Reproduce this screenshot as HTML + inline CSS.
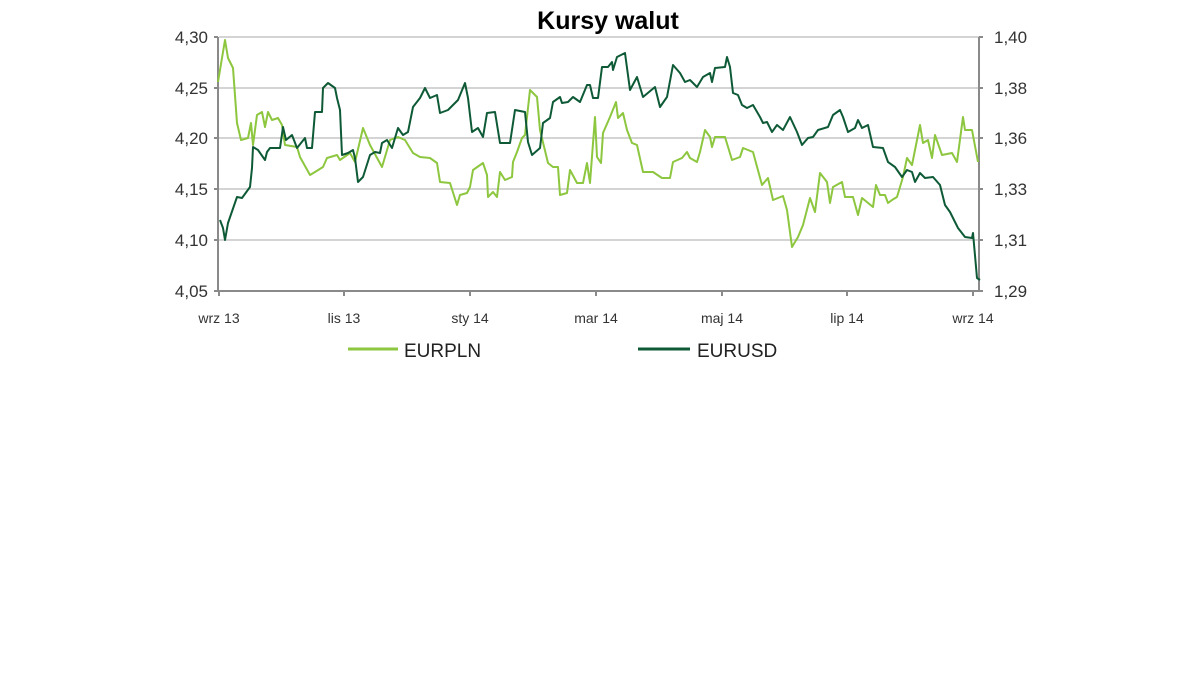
<!DOCTYPE html>
<html><head><meta charset="utf-8"><style>
html,body{margin:0;padding:0;background:#fff;}
svg{display:block;font-family:"Liberation Sans",sans-serif;}
</style></head><body>
<svg width="1200" height="675" viewBox="0 0 1200 675" xmlns="http://www.w3.org/2000/svg">
<rect width="1200" height="675" fill="#fff"/>
<text x="608" y="29" font-size="25" font-weight="bold" text-anchor="middle" fill="#000">Kursy walut</text>
<g stroke="#d4d4d4" stroke-width="2">
<line x1="219" y1="37" x2="979" y2="37"/>
<line x1="219" y1="88" x2="979" y2="88"/>
<line x1="219" y1="138" x2="979" y2="138"/>
<line x1="219" y1="189" x2="979" y2="189"/>
<line x1="219" y1="240" x2="979" y2="240"/>
</g>
<g stroke="#8a8a8a" stroke-width="2" fill="none">
<line x1="218" y1="37" x2="218" y2="292"/>
<line x1="979" y1="37" x2="979" y2="292"/>
<line x1="214" y1="291" x2="983" y2="291"/>
<line x1="214" y1="37" x2="218" y2="37"/><line x1="214" y1="88" x2="218" y2="88"/><line x1="214" y1="138" x2="218" y2="138"/><line x1="214" y1="189" x2="218" y2="189"/><line x1="214" y1="240" x2="218" y2="240"/>
<line x1="979" y1="37" x2="983" y2="37"/><line x1="979" y1="88" x2="983" y2="88"/><line x1="979" y1="138" x2="983" y2="138"/><line x1="979" y1="189" x2="983" y2="189"/><line x1="979" y1="240" x2="983" y2="240"/>
<line x1="344" y1="291" x2="344" y2="296"/><line x1="470" y1="291" x2="470" y2="296"/><line x1="596" y1="291" x2="596" y2="296"/><line x1="722" y1="291" x2="722" y2="296"/><line x1="847" y1="291" x2="847" y2="296"/><line x1="973" y1="291" x2="973" y2="296"/><line x1="219" y1="291" x2="219" y2="296"/>
</g>
<g font-size="17" fill="#333" text-anchor="end">
<text x="208" y="43">4,30</text><text x="208" y="94">4,25</text><text x="208" y="144">4,20</text><text x="208" y="195">4,15</text><text x="208" y="246">4,10</text><text x="208" y="297">4,05</text>
</g>
<g font-size="17" fill="#333">
<text x="994" y="43">1,40</text><text x="994" y="94">1,38</text><text x="994" y="144">1,36</text><text x="994" y="195">1,33</text><text x="994" y="246">1,31</text><text x="994" y="297">1,29</text>
</g>
<g font-size="14" fill="#333" text-anchor="middle">
<text x="219" y="323">wrz 13</text><text x="344" y="323">lis 13</text><text x="470" y="323">sty 14</text><text x="596" y="323">mar 14</text><text x="722" y="323">maj 14</text><text x="847" y="323">lip 14</text><text x="973" y="323">wrz 14</text>
</g>
<polyline fill="none" stroke="#8dc63f" stroke-width="2" stroke-linejoin="round" points="218,82 225,40 228,58 233,68 237,123 241,140 248,138 251,123 253,145 257,115 262,112 265,127 268,112 272,120 278,118 282,125 285,145 297,147 300,157 310,175 315,172 323,167 327,158 337,155 340,160 350,153 355,162 363,128 370,145 382,167 390,140 398,137 405,140 413,153 420,157 430,158 437,163 440,182 450,183 457,205 460,195 467,193 470,187 473,170 483,163 487,175 488,197 493,192 497,197 500,172 505,180 512,177 513,162 517,152 522,138 525,135 530,90 537,97 540,130 548,163 553,167 558,167 560,195 567,193 570,170 577,183 583,183 587,163 590,183 595,117 597,157 601,163 603,133 610,117 616,102 618,118 623,113 627,130 632,143 637,145 643,172 653,172 662,178 670,178 673,162 682,158 687,152 690,158 697,162 700,152 705,130 710,137 712,147 715,137 725,137 732,160 740,157 743,148 753,152 762,185 768,178 773,200 783,196 787,210 792,247 798,237 803,225 810,198 815,212 820,173 827,182 830,203 833,187 842,182 845,197 853,197 858,215 862,198 873,207 876,185 880,195 885,195 888,203 892,200 897,197 903,177 907,158 912,165 920,125 923,143 928,140 932,158 935,135 942,155 952,153 957,162 963,117 965,130 972,130 978,162"/>
<polyline fill="none" stroke="#0e5a36" stroke-width="2" stroke-linejoin="round" points="220,220 223,228 225,240 228,223 237,197 242,198 250,187 252,168 253,147 258,150 265,160 267,152 270,148 280,148 283,127 286,140 292,135 297,148 305,138 307,148 312,148 315,112 322,112 323,88 328,83 335,88 337,98 340,110 342,155 348,153 353,150 355,158 358,182 363,177 370,155 375,152 380,153 382,143 387,140 392,148 398,128 403,135 408,132 413,107 420,98 425,88 430,98 437,95 440,113 448,110 458,100 465,83 468,98 472,132 478,128 483,137 487,113 495,112 500,143 510,143 515,110 525,112 528,142 532,155 540,148 543,123 550,118 553,102 560,97 562,103 568,102 573,97 580,102 587,85 590,85 593,98 598,98 602,67 608,67 612,62 613,70 617,57 625,53 630,90 637,77 643,97 655,87 660,107 667,97 673,65 680,73 685,82 690,80 697,87 703,77 710,73 712,82 715,68 725,67 727,57 730,67 733,93 738,95 742,105 747,108 753,105 760,117 763,123 767,122 772,132 777,125 783,130 790,117 797,132 802,145 808,138 813,137 818,130 828,127 833,115 840,110 843,117 848,132 855,128 858,120 862,128 868,125 873,147 883,148 888,162 895,167 902,177 907,170 912,172 915,182 920,173 925,178 933,177 940,185 945,205 950,212 955,222 958,228 965,237 972,238 973,233 977,278 980,280"/>
<line x1="348" y1="349" x2="398" y2="349" stroke="#8dc63f" stroke-width="3"/>
<text x="404" y="357" font-size="19" fill="#222">EURPLN</text>
<line x1="638" y1="349" x2="690" y2="349" stroke="#0e5a36" stroke-width="3"/>
<text x="697" y="357" font-size="19" fill="#222">EURUSD</text>
</svg>
</body></html>
